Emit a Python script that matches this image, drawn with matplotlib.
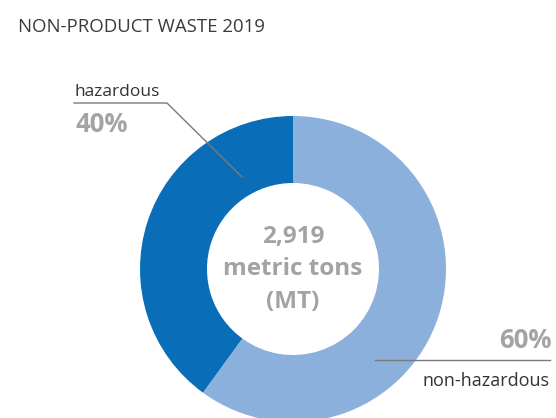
import matplotlib
matplotlib.use('Agg')
import matplotlib.pyplot as plt

# data
labels = ["hazardous", "non-hazardous"]
shares = [40, 60]
pct_labels = ["40%", "60%"]
total_lines = ["2,919", "metric tons", "(MT)"]
title = "NON-PRODUCT WASTE 2019"

colors = ["#0a6db8", "#8bb0dc"]
H = 418

plt.rcParams['font.family'] = ['Open Sans', 'DejaVu Sans']

fig = plt.figure(figsize=(5.56, 4.18), dpi=100, facecolor="white")
ax = fig.add_axes([0, 0, 1, 1])

cx, cy, r_out, r_in = 293, H - 269, 153, 86
ax.pie(shares, colors=colors, startangle=90, counterclock=True,
       center=(cx, cy), radius=r_out,
       wedgeprops=dict(width=r_out - r_in, edgecolor="none"))
ax.set_xlim(0, 556)
ax.set_ylim(0, H)
ax.set_aspect('auto')
ax.axis('off')

# title
ax.text(18, H - 31.5, title, fontsize=13.4, color="#3a3a3a", ha="left", va="baseline")

# hazardous label + leader
ax.text(74, H - 96, labels[0], fontsize=12.5, color="#333333", ha="left", va="baseline")
ax.plot([74, 167, 242], [H - 103, H - 103, H - 177], color="#7a7a7a", lw=1)
ax.text(76, H - 132, pct_labels[0], fontsize=18.5, fontweight="bold", color="#a3a3a3",
        ha="left", va="baseline")

# non-hazardous label + leader
ax.text(552, H - 348, pct_labels[1], fontsize=18.5, fontweight="bold", color="#a3a3a3",
        ha="right", va="baseline")
ax.plot([375, 550], [H - 360, H - 360], color="#7a7a7a", lw=1)
ax.text(550, H - 386, labels[1], fontsize=13, color="#333333", ha="right", va="baseline")

# center total
for y, line in zip([237, 269, 302], total_lines):
    ax.text(cx, H - y, line, fontsize=17.5, fontweight="bold", color="#a3a3a3",
            ha="center", va="center")

plt.savefig("out.png", dpi=100, facecolor="white")
